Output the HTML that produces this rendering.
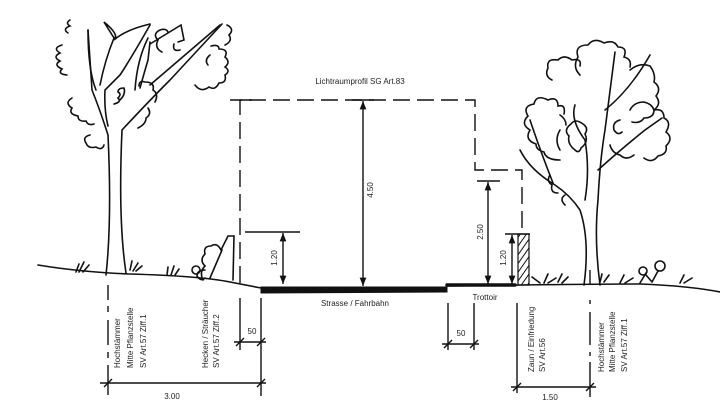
<!DOCTYPE html>
<html><head><meta charset="utf-8"><style>
html,body{margin:0;padding:0;background:#fff;width:720px;height:419px;overflow:hidden}
svg{display:block}
text{font-family:"Liberation Sans",sans-serif;fill:#222}
</style></head><body>
<svg width="720" height="419" viewBox="0 0 720 419" xmlns="http://www.w3.org/2000/svg">
<defs>
<marker id="a" viewBox="0 0 10 10" refX="10" refY="5" markerWidth="6" markerHeight="8" orient="auto-start-reverse"><path d="M0,1 L10,5 L0,9 z" fill="#111"/></marker>
<pattern id="h" width="5" height="5" patternUnits="userSpaceOnUse" patternTransform="rotate(35)"><line x1="0" y1="0" x2="0" y2="5" stroke="#111" stroke-width="2"/></pattern>
</defs>
<g fill="none" stroke="#111" stroke-width="1.6" stroke-linecap="round">
<path d="M38,265 Q80,272 130,274 Q200,276 230,282 L261,288"/>
<path d="M448,286 L520,285 Q600,284 640,284 Q690,286 720,292"/>
<path d="M261,287 L447,287 L447,292 L261,293 Z" fill="#111" stroke-width="1"/>
<path d="M447,285 L515,285" stroke-width="3.5"/>
<path d="M106,275 Q112,220 108,135 Q100,110 92,90 L88,30"/>
<path d="M126,273 Q118,220 122,130 Q150,100 170,80 L222,24"/>
<path d="M96,90 Q88,70 88,30 M100,85 Q105,60 114,38 L104,22 Q120,35 114,40 Q125,30 150,24"/>
<path d="M108,126 Q104,110 105,90 L120,75 Q130,60 150,25"/>
<path d="M135,90 Q137,60 148,38 M140,88 Q145,70 148,60 L150,42 M150,44 L181,25 L184,40 L178,42"/>
<path d="M150,85 L220,25"/>
<path d="M70,20 q-5,3 0,6 q-8,3 -2,7 M62,45 q-10,3 -2,8 q-8,4 0,8 q-7,4 2,8 q-5,5 5,6"/>
<path d="M72,98 q-8,5 0,10 q-4,6 6,8 q0,6 8,5 q2,5 8,3 M90,135 q-8,2 -4,8 q2,6 10,4 q6,4 8,-2"/>
<path d="M155,102 q4,-8 -2,-12 q2,-8 -8,-8 q-6,-2 -6,4 M138,128 q8,-4 8,-10 q6,-4 2,-10"/>
<path d="M162,52 q-8,-4 -4,-12 q-6,-6 2,-10 q6,-2 8,2 M180,50 q-8,2 -6,-6"/>
<path d="M195,85 q6,8 14,2 q6,4 10,-4 q8,0 6,-8 q6,-4 0,-8 q6,-5 0,-10 q4,-8 -6,-8 q0,-5 -8,-3 M210,55 q-6,5 -2,10"/>
<path d="M225,45 q8,-4 4,-10 q6,-6 -2,-10"/>
<path d="M120,100 q6,-6 4,-12 q-6,0 -6,4 q4,2 0,6 q4,4 -4,6"/>
<path d="M203,280 q-4,-8 2,-14 q-6,-6 0,-12 q-2,-8 6,-8 q6,-4 10,4 L228,236 L234,236 L233,280 M210,278 L222,250 M205,270 q-8,0 -8,6 q4,6 8,2"/>
<path d="M76,272 l3,-8 M79,272 l5,-10 M83,272 l6,-7 M130,270 l2,-9 M133,271 l5,-8 M136,271 l6,-5 M167,275 l1,-8 M171,275 l3,-9 M175,275 l4,-6 M540,283 l-8,-6 M544,283 l4,-9 M548,283 l8,-5 M558,282 l4,-8 M562,283 l6,-6 M600,282 l2,-8 M604,282 l5,-7 M620,283 l4,-8 M625,283 l8,-5 M640,283 l6,-10 M680,283 l4,-8 M684,283 l8,-5"/>
<circle cx="643" cy="271" r="4"/><circle cx="660" cy="266" r="5"/><path d="M646,275 L652,282 M658,271 L652,282"/>
<circle cx="196" cy="270" r="4"/>
<path d="M584,285 Q590,240 580,210 Q570,195 555,185 Q530,170 520,150"/>
<path d="M600,285 Q594,240 598,200 Q600,160 605,130 L615,52"/>
<path d="M585,200 Q590,170 585,140 Q570,120 575,105"/>
<path d="M598,170 Q620,150 645,130 L662,118"/>
<path d="M605,110 Q630,90 650,55"/>
<path d="M553,183 Q540,150 530,120 M560,130 q-6,10 0,20"/>
<path d="M560,160 q-14,0 -16,-8 q-8,-2 -8,-8 q-12,-4 -6,-14 q-10,-6 -2,-14 q-6,-10 6,-12 q2,-10 14,-4 q10,-4 10,6 q8,-2 6,8"/>
<path d="M552,80 q-8,-4 -4,-12 q-2,-10 10,-8 q6,-6 14,0 q10,-2 8,6"/>
<path d="M580,75 q-8,-8 -2,-18 q-4,-12 10,-12 q6,-8 16,-2 q10,-4 14,4 q10,0 6,10 q8,2 6,10"/>
<path d="M630,70 q10,-8 20,-4 q6,8 4,16 q8,6 2,14 q6,8 -2,14 q0,8 -10,8 q-4,6 -12,4"/>
<path d="M630,110 q4,-8 14,-8 q8,2 10,8 q10,-2 10,8 q8,4 2,14 q8,6 0,14 q2,8 -8,10 q-6,8 -14,2 M610,145 q2,8 10,10 q6,6 14,0"/>
<path d="M550,175 q-4,6 2,10 q-2,8 6,8 M565,195 q-6,4 0,10"/>
<path d="M560,115 q6,4 6,10 M575,150 q-8,-6 -6,-14 q-6,-6 2,-12 q4,-6 12,0 q6,4 2,10 q4,8 -4,14 q-2,6 -6,2"/>
<path d="M620,120 q-8,2 -6,10 q4,6 8,2"/>
<rect x="518" y="234" width="11" height="51" fill="url(#h)" stroke-width="1.2"/>
</g>
<g fill="none" stroke="#111" stroke-width="1.4">
<path d="M240,283 L240,100 L475,100 L475,170 L522,170 L522,234" stroke-dasharray="17,7"/>
<path d="M230,100 L252,100 M352,100 L374,100 M245,232 L300,232 M477,181 L500,181 M505,234 L530,234"/>
<line x1="363" y1="101" x2="363" y2="286" marker-start="url(#a)" marker-end="url(#a)"/>
<line x1="283" y1="233" x2="283" y2="284" marker-start="url(#a)" marker-end="url(#a)"/>
<line x1="488" y1="182" x2="488" y2="284" marker-start="url(#a)" marker-end="url(#a)"/>
<line x1="512" y1="235" x2="512" y2="284" marker-start="url(#a)" marker-end="url(#a)"/>
<path d="M108,285 L108,300 M108,306 L108,312 M108,320 L108,345 M108,352 L108,358 M108,365 L108,395" />
<path d="M590,270 L590,285 M590,300 L590,304 M590,312 L590,345 M590,352 L590,356 M590,362 L590,397"/>
<line x1="261" y1="298" x2="261" y2="396"/>
<line x1="240" y1="298" x2="240" y2="350"/>
<line x1="448" y1="303" x2="448" y2="350"/>
<line x1="474" y1="303" x2="474" y2="350"/>
<line x1="517" y1="303" x2="517" y2="393"/>
<line x1="100" y1="383" x2="266" y2="383"/>
<line x1="234" y1="342" x2="266" y2="342"/>
<line x1="442" y1="344" x2="479" y2="344"/>
<line x1="511" y1="387" x2="596" y2="387"/>
<path d="M104,387 l8,-8 M257,387 l8,-8 M236,346 l8,-8 M257,346 l8,-8 M444,348 l8,-8 M470,348 l8,-8 M513,391 l8,-8 M586,391 l8,-8"/>
</g>
<g font-size="8">
<text x="360" y="84" text-anchor="middle">Lichtraumprofil SG Art.83</text>
<text x="355" y="306" text-anchor="middle">Strasse / Fahrbahn</text>
<text x="485" y="300" text-anchor="middle">Trottoir</text>
<text x="172" y="399" text-anchor="middle">3.00</text>
<text x="252" y="334" text-anchor="middle">50</text>
<text x="461" y="336" text-anchor="middle">50</text>
<text x="550" y="400" text-anchor="middle">1.50</text>
<text transform="translate(373,190) rotate(-90)" text-anchor="middle">4.50</text>
<text transform="translate(277,258) rotate(-90)" text-anchor="middle">1.20</text>
<text transform="translate(483,232) rotate(-90)" text-anchor="middle">2.50</text>
<text transform="translate(506,258) rotate(-90)" text-anchor="middle">1.20</text>
<text transform="translate(120,368) rotate(-90)">Hochstämmer</text>
<text transform="translate(133,368) rotate(-90)">Mitte Pflanzstelle</text>
<text transform="translate(146,368) rotate(-90)">SV Art.57 Ziff.1</text>
<text transform="translate(208,368) rotate(-90)">Hecken / Sträucher</text>
<text transform="translate(219,368) rotate(-90)">SV Art.57 Ziff.2</text>
<text transform="translate(534,372) rotate(-90)">Zaun / Einfriedung</text>
<text transform="translate(545,372) rotate(-90)">SV Art.56</text>
<text transform="translate(604,372) rotate(-90)">Hochstämmer</text>
<text transform="translate(615,372) rotate(-90)">Mitte Pflanzstelle</text>
<text transform="translate(627,372) rotate(-90)">SV Art.57 Ziff.1</text>
</g>
</svg>
</body></html>
